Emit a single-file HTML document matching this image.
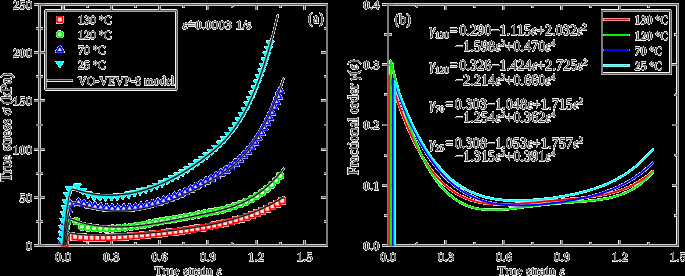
<!DOCTYPE html>
<html><head><meta charset="utf-8"><style>
html,body{margin:0;padding:0;background:#000;width:685px;height:276px;overflow:hidden}
svg{display:block}
text{font-family:"Liberation Serif",serif}
</style></head><body>
<svg width="685" height="276" viewBox="0 0 685 276">
<defs><filter id="key" x="0" y="0" width="685" height="276" filterUnits="userSpaceOnUse" color-interpolation-filters="sRGB">
<feColorMatrix in="SourceGraphic" type="matrix" values="0 0 0 0 0  0 0 0 0 0  0 0 0 0 0  -0.3333 -0.3333 -0.3334 0 1" result="inv"/>
<feComponentTransfer in="inv" result="mask"><feFuncA type="discrete" tableValues="0 0 1 1 1 1 1 1 1 1 1 1 1 1 1 1 1 1 1 1 1 1 1 1 1 1 1 1 1 1 1 1 1 1 1 1 1 1 1 1 1 1 1 1 1 1 1 1 1 1 1 1 1 1 1 1 1 1 1 1 1 1 1 1 1 1 1 1 1 1 1 1 1 1 1 1 1 1 1 1 1 1 1 1 1 1 1 1 1 1 1 1 1 1 1 1 1 1 1 1"/></feComponentTransfer>
<feComposite in="SourceGraphic" in2="mask" operator="in"/>
</filter></defs>
<rect width="685" height="276" fill="#000"/>
<g filter="url(#key)">
<rect width="685" height="276" fill="#fff"/>
<path d="M63.00,244.5v-4.5M63.00,5.5v4.5M87.15,244.5v-2M87.15,5.5v2M111.30,244.5v-4.5M111.30,5.5v4.5M135.45,244.5v-2M135.45,5.5v2M159.60,244.5v-4.5M159.60,5.5v4.5M183.75,244.5v-2M183.75,5.5v2M207.90,244.5v-4.5M207.90,5.5v4.5M232.05,244.5v-2M232.05,5.5v2M256.20,244.5v-4.5M256.20,5.5v4.5M280.35,244.5v-2M280.35,5.5v2M304.50,244.5v-4.5M304.50,5.5v4.5M34.0,245.50h4.5M40.5,245.50h4.5M36.0,221.40h2.5M40.5,221.40h2.5M326.0,221.40h-2M34.0,197.30h4.5M40.5,197.30h4.5M326.0,197.30h-4.5M36.0,173.20h2.5M40.5,173.20h2.5M326.0,173.20h-2M34.0,149.10h4.5M40.5,149.10h4.5M326.0,149.10h-4.5M36.0,125.00h2.5M40.5,125.00h2.5M326.0,125.00h-2M34.0,100.90h4.5M40.5,100.90h4.5M326.0,100.90h-4.5M36.0,76.80h2.5M40.5,76.80h2.5M326.0,76.80h-2M34.0,52.70h4.5M40.5,52.70h4.5M326.0,52.70h-4.5M36.0,28.60h2.5M40.5,28.60h2.5M326.0,28.60h-2M34.0,4.50h4.5M40.5,4.50h4.5M416.98,244.5v-2M416.98,5.5v2M445.95,244.5v-4.5M445.95,5.5v4.5M474.93,244.5v-2M474.93,5.5v2M503.90,244.5v-4.5M503.90,5.5v4.5M532.88,244.5v-2M532.88,5.5v2M561.85,244.5v-4.5M561.85,5.5v4.5M590.83,244.5v-2M590.83,5.5v2M619.80,244.5v-4.5M619.80,5.5v4.5M648.78,244.5v-2M648.78,5.5v2M382.5,245.50h4.5M389.0,245.50h4.5M384.5,215.38h2.5M389.0,215.38h2.5M676.75,215.38h-2M382.5,185.25h4.5M389.0,185.25h4.5M676.75,185.25h-4.5M384.5,155.12h2.5M389.0,155.12h2.5M676.75,155.12h-2M382.5,125.00h4.5M389.0,125.00h4.5M676.75,125.00h-4.5M384.5,94.88h2.5M389.0,94.88h2.5M676.75,94.88h-2M382.5,64.75h4.5M389.0,64.75h4.5M676.75,64.75h-4.5M384.5,34.62h2.5M389.0,34.62h2.5M676.75,34.62h-2M382.5,4.50h4.5M389.0,4.50h4.5" stroke="#b8b8b8" stroke-width="2.2" fill="none" />
<path d="M63.00,244.5v-4.5M63.00,5.5v4.5M87.15,244.5v-2M87.15,5.5v2M111.30,244.5v-4.5M111.30,5.5v4.5M135.45,244.5v-2M135.45,5.5v2M159.60,244.5v-4.5M159.60,5.5v4.5M183.75,244.5v-2M183.75,5.5v2M207.90,244.5v-4.5M207.90,5.5v4.5M232.05,244.5v-2M232.05,5.5v2M256.20,244.5v-4.5M256.20,5.5v4.5M280.35,244.5v-2M280.35,5.5v2M304.50,244.5v-4.5M304.50,5.5v4.5M34.0,245.50h4.5M40.5,245.50h4.5M36.0,221.40h2.5M40.5,221.40h2.5M326.0,221.40h-2M34.0,197.30h4.5M40.5,197.30h4.5M326.0,197.30h-4.5M36.0,173.20h2.5M40.5,173.20h2.5M326.0,173.20h-2M34.0,149.10h4.5M40.5,149.10h4.5M326.0,149.10h-4.5M36.0,125.00h2.5M40.5,125.00h2.5M326.0,125.00h-2M34.0,100.90h4.5M40.5,100.90h4.5M326.0,100.90h-4.5M36.0,76.80h2.5M40.5,76.80h2.5M326.0,76.80h-2M34.0,52.70h4.5M40.5,52.70h4.5M326.0,52.70h-4.5M36.0,28.60h2.5M40.5,28.60h2.5M326.0,28.60h-2M34.0,4.50h4.5M40.5,4.50h4.5M416.98,244.5v-2M416.98,5.5v2M445.95,244.5v-4.5M445.95,5.5v4.5M474.93,244.5v-2M474.93,5.5v2M503.90,244.5v-4.5M503.90,5.5v4.5M532.88,244.5v-2M532.88,5.5v2M561.85,244.5v-4.5M561.85,5.5v4.5M590.83,244.5v-2M590.83,5.5v2M619.80,244.5v-4.5M619.80,5.5v4.5M648.78,244.5v-2M648.78,5.5v2M382.5,245.50h4.5M389.0,245.50h4.5M384.5,215.38h2.5M389.0,215.38h2.5M676.75,215.38h-2M382.5,185.25h4.5M389.0,185.25h4.5M676.75,185.25h-4.5M384.5,155.12h2.5M389.0,155.12h2.5M676.75,155.12h-2M382.5,125.00h4.5M389.0,125.00h4.5M676.75,125.00h-4.5M384.5,94.88h2.5M389.0,94.88h2.5M676.75,94.88h-2M382.5,64.75h4.5M389.0,64.75h4.5M676.75,64.75h-4.5M384.5,34.62h2.5M389.0,34.62h2.5M676.75,34.62h-2M382.5,4.50h4.5M389.0,4.50h4.5" stroke="#333" stroke-width="0.9" fill="none" />
<rect x="39.5" y="4.5" width="287.5" height="241.0" fill="none" stroke="#5e5e5e" stroke-width="1.6"/>
<rect x="388.0" y="4.5" width="289.75" height="241.0" fill="none" stroke="#5e5e5e" stroke-width="1.6"/>
<g><g fill="#ffd8d8" stroke="#ff0000" stroke-width="1.6" stroke-linejoin="round"><rect x="61.98" y="240.70" width="5.60" height="5.60"/><rect x="63.74" y="234.62" width="5.60" height="5.60"/><rect x="72.18" y="233.99" width="5.60" height="5.60"/><rect x="77.72" y="234.48" width="5.60" height="5.60"/><rect x="83.30" y="234.73" width="5.60" height="5.60"/><rect x="88.90" y="234.83" width="5.60" height="5.60"/><rect x="94.50" y="234.84" width="5.60" height="5.60"/><rect x="100.10" y="234.76" width="5.60" height="5.60"/><rect x="105.70" y="234.62" width="5.60" height="5.60"/><rect x="111.30" y="234.41" width="5.60" height="5.60"/><rect x="116.89" y="234.13" width="5.60" height="5.60"/><rect x="122.49" y="233.80" width="5.60" height="5.60"/><rect x="128.08" y="233.40" width="5.60" height="5.60"/><rect x="133.67" y="232.95" width="5.60" height="5.60"/><rect x="139.26" y="232.44" width="5.60" height="5.60"/><rect x="144.85" y="231.88" width="5.60" height="5.60"/><rect x="150.43" y="231.33" width="5.60" height="5.60"/><rect x="156.00" y="230.78" width="5.60" height="5.60"/><rect x="161.57" y="230.18" width="5.60" height="5.60"/><rect x="167.14" y="229.53" width="5.60" height="5.60"/><rect x="172.70" y="228.84" width="5.60" height="5.60"/><rect x="178.25" y="228.11" width="5.60" height="5.60"/><rect x="183.80" y="227.35" width="5.60" height="5.60"/><rect x="189.35" y="226.53" width="5.60" height="5.60"/><rect x="194.88" y="225.67" width="5.60" height="5.60"/><rect x="200.41" y="224.73" width="5.60" height="5.60"/><rect x="205.93" y="223.72" width="5.60" height="5.60"/><rect x="211.43" y="222.62" width="5.60" height="5.60"/><rect x="216.91" y="221.42" width="5.60" height="5.60"/><rect x="222.37" y="220.11" width="5.60" height="5.60"/><rect x="227.80" y="218.70" width="5.60" height="5.60"/><rect x="233.20" y="217.29" width="5.60" height="5.60"/><rect x="238.56" y="215.75" width="5.60" height="5.60"/><rect x="243.88" y="214.06" width="5.60" height="5.60"/><rect x="249.15" y="212.23" width="5.60" height="5.60"/><rect x="254.36" y="210.25" width="5.60" height="5.60"/><rect x="259.52" y="208.12" width="5.60" height="5.60"/><rect x="264.61" y="205.83" width="5.60" height="5.60"/><rect x="269.63" y="203.39" width="5.60" height="5.60"/><rect x="274.57" y="200.80" width="5.60" height="5.60"/><rect x="279.44" y="198.06" width="5.60" height="5.60"/></g><g fill="#d8ffd8" stroke="#00f000" stroke-width="1.6" stroke-linejoin="round"><circle cx="63.78" cy="241.19" r="2.90"/><circle cx="64.67" cy="234.78" r="2.90"/><circle cx="65.80" cy="228.23" r="2.90"/><circle cx="67.29" cy="222.09" r="2.90"/><circle cx="76.16" cy="221.31" r="2.90"/><circle cx="82.02" cy="226.73" r="2.90"/><circle cx="88.01" cy="227.66" r="2.90"/><circle cx="94.09" cy="228.27" r="2.90"/><circle cx="100.21" cy="228.59" r="2.90"/><circle cx="106.38" cy="228.64" r="2.90"/><circle cx="112.56" cy="228.44" r="2.90"/><circle cx="118.76" cy="228.02" r="2.90"/><circle cx="124.96" cy="227.45" r="2.90"/><circle cx="131.16" cy="226.72" r="2.90"/><circle cx="137.34" cy="225.81" r="2.90"/><circle cx="143.51" cy="224.75" r="2.90"/><circle cx="149.67" cy="223.55" r="2.90"/><circle cx="155.80" cy="222.23" r="2.90"/><circle cx="161.92" cy="220.98" r="2.90"/><circle cx="168.03" cy="220.00" r="2.90"/><circle cx="174.13" cy="218.96" r="2.90"/><circle cx="180.21" cy="217.87" r="2.90"/><circle cx="186.28" cy="216.75" r="2.90"/><circle cx="192.36" cy="215.62" r="2.90"/><circle cx="198.43" cy="214.50" r="2.90"/><circle cx="204.50" cy="213.39" r="2.90"/><circle cx="210.57" cy="212.25" r="2.90"/><circle cx="216.63" cy="211.01" r="2.90"/><circle cx="222.67" cy="209.61" r="2.90"/><circle cx="228.65" cy="207.99" r="2.90"/><circle cx="234.56" cy="206.24" r="2.90"/><circle cx="240.37" cy="204.21" r="2.90"/><circle cx="246.05" cy="201.82" r="2.90"/><circle cx="251.57" cy="199.07" r="2.90"/><circle cx="256.90" cy="195.96" r="2.90"/><circle cx="262.01" cy="192.50" r="2.90"/><circle cx="266.90" cy="188.72" r="2.90"/><circle cx="271.57" cy="184.66" r="2.90"/><circle cx="276.00" cy="180.34" r="2.90"/><circle cx="280.22" cy="175.81" r="2.90"/></g><g fill="#dcdcff" stroke="#0000ff" stroke-width="1.6" stroke-linejoin="round"><path d="M62.56,237.35L66.26,243.45L58.86,243.45Z"/><path d="M63.35,231.24L67.05,237.34L59.65,237.34Z"/><path d="M64.32,224.46L68.02,230.56L60.62,230.56Z"/><path d="M65.31,218.32L69.01,224.42L61.61,224.42Z"/><path d="M66.49,212.04L70.19,218.14L62.79,218.14Z"/><path d="M67.87,206.13L71.57,212.23L64.17,212.23Z"/><path d="M69.98,200.06L73.68,206.16L66.28,206.16Z"/><path d="M78.44,198.36L82.14,204.46L74.74,204.46Z"/><path d="M83.86,200.01L87.56,206.11L80.16,206.11Z"/><path d="M89.38,201.39L93.08,207.49L85.68,207.49Z"/><path d="M94.99,202.47L98.69,208.57L91.29,208.57Z"/><path d="M100.66,203.30L104.36,209.40L96.96,209.40Z"/><path d="M106.39,204.05L110.09,210.15L102.69,210.15Z"/><path d="M112.16,204.51L115.86,210.61L108.46,210.61Z"/><path d="M117.95,204.67L121.65,210.77L114.25,210.77Z"/><path d="M123.75,204.55L127.45,210.65L120.05,210.65Z"/><path d="M129.54,204.15L133.24,210.25L125.84,210.25Z"/><path d="M135.32,203.49L139.02,209.59L131.62,209.59Z"/><path d="M141.06,202.57L144.76,208.67L137.36,208.67Z"/><path d="M146.77,201.41L150.47,207.51L143.07,207.51Z"/><path d="M152.43,200.03L156.13,206.13L148.73,206.13Z"/><path d="M158.04,198.44L161.74,204.54L154.34,204.54Z"/><path d="M163.59,196.66L167.29,202.76L159.89,202.76Z"/><path d="M169.08,194.70L172.78,200.80L165.38,200.80Z"/><path d="M174.52,192.58L178.22,198.68L170.82,198.68Z"/><path d="M179.89,190.31L183.59,196.41L176.19,196.41Z"/><path d="M185.20,187.90L188.90,194.00L181.50,194.00Z"/><path d="M190.45,185.37L194.15,191.47L186.75,191.47Z"/><path d="M195.65,182.72L199.35,188.82L191.95,188.82Z"/><path d="M200.79,180.01L204.49,186.11L197.09,186.11Z"/><path d="M205.88,177.47L209.58,183.57L202.18,183.57Z"/><path d="M210.91,174.84L214.61,180.94L207.21,180.94Z"/><path d="M215.90,172.12L219.60,178.22L212.20,178.22Z"/><path d="M220.84,169.29L224.54,175.39L217.14,175.39Z"/><path d="M225.69,166.28L229.39,172.38L221.99,172.38Z"/><path d="M230.41,163.02L234.11,169.12L226.71,169.12Z"/><path d="M234.97,159.51L238.67,165.61L231.27,165.61Z"/><path d="M239.32,155.71L243.02,161.81L235.62,161.81Z"/><path d="M243.46,151.66L247.16,157.76L239.76,157.76Z"/><path d="M247.36,147.37L251.06,153.47L243.66,153.47Z"/><path d="M251.03,142.90L254.73,149.00L247.33,149.00Z"/><path d="M254.49,138.31L258.19,144.41L250.79,144.41Z"/><path d="M257.74,133.58L261.44,139.68L254.04,139.68Z"/><path d="M260.80,128.71L264.50,134.81L257.10,134.81Z"/><path d="M263.68,123.74L267.38,129.84L259.98,129.84Z"/><path d="M266.41,118.68L270.11,124.78L262.71,124.78Z"/><path d="M269.00,113.54L272.70,119.64L265.30,119.64Z"/><path d="M271.45,108.34L275.15,114.44L267.75,114.44Z"/><path d="M273.79,103.08L277.49,109.18L270.09,109.18Z"/><path d="M276.03,97.78L279.73,103.88L272.33,103.88Z"/><path d="M278.16,92.43L281.86,98.53L274.46,98.53Z"/><path d="M280.21,87.06L283.91,93.16L276.51,93.16Z"/></g><g fill="#00ffff" stroke="#00ffff" stroke-width="0.9" stroke-linejoin="round"><path d="M61.88,244.45L65.58,238.35L58.18,238.35Z"/><path d="M62.46,237.98L66.16,231.88L58.76,231.88Z"/><path d="M63.05,231.84L66.75,225.74L59.35,225.74Z"/><path d="M63.80,224.67L67.50,218.57L60.10,218.57Z"/><path d="M64.56,218.08L68.26,211.98L60.86,211.98Z"/><path d="M65.34,212.09L69.04,205.99L61.64,205.99Z"/><path d="M66.28,205.79L69.98,199.69L62.58,199.69Z"/><path d="M67.57,199.00L71.27,192.90L63.87,192.90Z"/><path d="M69.36,192.94L73.06,186.84L65.66,186.84Z"/><path d="M77.14,190.48L80.84,184.38L73.44,184.38Z"/><path d="M82.71,194.78L86.41,188.68L79.01,188.68Z"/><path d="M88.34,198.31L92.04,192.21L84.64,192.21Z"/><path d="M94.03,200.57L97.73,194.47L90.33,194.47Z"/><path d="M99.77,201.01L103.47,194.91L96.07,194.91Z"/><path d="M105.54,201.13L109.24,195.03L101.84,195.03Z"/><path d="M111.34,200.95L115.04,194.85L107.64,194.85Z"/><path d="M117.14,200.43L120.84,194.33L113.44,194.33Z"/><path d="M122.92,199.55L126.62,193.45L119.22,193.45Z"/><path d="M128.68,198.38L132.38,192.28L124.98,192.28Z"/><path d="M134.40,196.94L138.10,190.84L130.70,190.84Z"/><path d="M140.07,195.23L143.77,189.13L136.37,189.13Z"/><path d="M145.68,193.57L149.38,187.47L141.98,187.47Z"/><path d="M151.21,191.67L154.91,185.57L147.51,185.57Z"/><path d="M156.68,189.55L160.38,183.45L152.98,183.45Z"/><path d="M162.06,187.24L165.76,181.14L158.36,181.14Z"/><path d="M167.36,184.73L171.06,178.63L163.66,178.63Z"/><path d="M172.58,182.05L176.28,175.95L168.88,175.95Z"/><path d="M177.72,179.22L181.42,173.12L174.02,173.12Z"/><path d="M182.77,176.24L186.47,170.14L179.07,170.14Z"/><path d="M187.75,173.12L191.45,167.02L184.05,167.02Z"/><path d="M192.64,169.88L196.34,163.78L188.94,163.78Z"/><path d="M197.45,166.52L201.15,160.42L193.75,160.42Z"/><path d="M202.19,163.01L205.89,156.91L198.49,156.91Z"/><path d="M206.86,159.34L210.56,153.24L203.16,153.24Z"/><path d="M211.46,155.56L215.16,149.46L207.76,149.46Z"/><path d="M215.97,151.63L219.67,145.53L212.27,145.53Z"/><path d="M220.34,147.50L224.04,141.40L216.64,141.40Z"/><path d="M224.53,143.14L228.23,137.04L220.83,137.04Z"/><path d="M228.51,138.56L232.21,132.46L224.81,132.46Z"/><path d="M232.26,133.86L235.96,127.76L228.56,127.76Z"/><path d="M235.79,129.02L239.49,122.92L232.09,122.92Z"/><path d="M239.10,124.02L242.80,117.92L235.40,117.92Z"/><path d="M242.19,118.90L245.89,112.80L238.49,112.80Z"/><path d="M245.10,113.67L248.80,107.57L241.40,107.57Z"/><path d="M247.83,108.35L251.53,102.25L244.13,102.25Z"/><path d="M250.41,102.97L254.11,96.87L246.71,96.87Z"/><path d="M252.84,97.53L256.54,91.43L249.14,91.43Z"/><path d="M255.14,92.04L258.84,85.94L251.44,85.94Z"/><path d="M257.32,86.51L261.02,80.41L253.62,80.41Z"/><path d="M259.41,80.95L263.11,74.85L255.71,74.85Z"/><path d="M261.39,75.37L265.09,69.27L257.69,69.27Z"/><path d="M263.30,69.75L267.00,63.65L259.60,63.65Z"/><path d="M265.12,64.12L268.82,58.02L261.42,58.02Z"/><path d="M266.87,58.48L270.57,52.38L263.17,52.38Z"/><path d="M268.55,52.82L272.25,46.72L264.85,46.72Z"/><path d="M270.18,47.14L273.88,41.04L266.48,41.04Z"/></g></g>
<path d="M65.60,245.50 C67.07,238.00 68.78,233.00 70.50,233.00 L72.90,233.51 L75.29,233.89 L77.69,234.18 L80.09,234.41 L82.48,234.59 L84.88,234.74 L87.28,234.85 L89.67,234.95 L92.07,235.02 L94.47,235.08 L96.86,235.12 L99.26,235.14 L101.66,235.16 L104.05,235.16 L106.45,235.14 L108.85,235.12 L111.24,235.08 L113.64,235.03 L116.04,234.97 L118.43,234.89 L120.83,234.81 L123.23,234.71 L125.62,234.60 L128.02,234.49 L130.42,234.36 L132.81,234.22 L135.21,234.07 L137.61,233.91 L140.00,233.74 L142.40,233.56 L144.80,233.37 L147.19,233.17 L149.59,232.96 L151.99,232.75 L154.38,232.52 L156.78,232.28 L159.18,232.04 L161.57,231.78 L163.97,231.52 L166.37,231.25 L168.76,230.97 L171.16,230.68 L173.56,230.39 L175.95,230.09 L178.35,229.77 L180.74,229.46 L183.14,229.13 L185.54,228.80 L187.93,228.45 L190.33,228.10 L192.73,227.75 L195.12,227.37 L197.52,226.99 L199.92,226.60 L202.31,226.19 L204.71,225.77 L207.11,225.33 L209.50,224.87 L211.90,224.40 L214.30,223.90 L216.69,223.39 L219.09,222.86 L221.49,222.30 L223.88,221.73 L226.28,221.13 L228.68,220.50 L231.07,219.85 L233.47,219.17 L235.87,218.46 L238.26,217.73 L240.66,216.96 L243.06,216.17 L245.45,215.34 L247.85,214.48 L250.25,213.59 L252.64,212.66 L255.04,211.70 L257.44,210.69 L259.83,209.66 L262.23,208.58 L264.63,207.46 L267.02,206.30 L269.42,205.10 L271.82,203.86 L274.21,202.57 L276.61,201.24 L279.01,199.87 L281.40,198.44 L283.80,196.97" fill="none" stroke="#9a9a9a" stroke-width="1.8" stroke-linejoin="round" stroke-linecap="round"/>
<path d="M64.90,245.50 C66.79,229.60 69.00,219.00 71.20,219.00 L73.59,220.01 L75.98,220.89 L78.37,221.68 L80.76,222.39 L83.14,223.02 L85.53,223.60 L87.92,224.11 L90.31,224.58 L92.70,225.00 L95.09,225.37 L97.48,225.70 L99.87,225.99 L102.25,226.23 L104.64,226.44 L107.03,226.61 L109.42,226.74 L111.81,226.83 L114.20,226.89 L116.59,226.92 L118.98,226.92 L121.36,226.88 L123.75,226.81 L126.14,226.71 L128.53,226.59 L130.92,226.43 L133.31,226.25 L135.70,226.05 L138.09,225.82 L140.47,225.57 L142.86,225.30 L145.25,225.00 L147.64,224.69 L150.03,224.35 L152.42,224.00 L154.81,223.63 L157.20,223.25 L159.58,222.85 L161.97,222.43 L164.36,222.01 L166.75,221.57 L169.14,221.12 L171.53,220.67 L173.92,220.20 L176.31,219.73 L178.69,219.25 L181.08,218.76 L183.47,218.27 L185.86,217.78 L188.25,217.28 L190.64,216.79 L193.03,216.29 L195.42,215.80 L197.80,215.30 L200.19,214.81 L202.58,214.33 L204.97,213.84 L207.36,213.34 L209.75,212.84 L212.14,212.33 L214.53,211.79 L216.91,211.23 L219.30,210.65 L221.69,210.03 L224.08,209.38 L226.47,208.69 L228.86,207.95 L231.25,207.17 L233.64,206.33 L236.02,205.43 L238.41,204.48 L240.80,203.45 L243.19,202.36 L245.58,201.19 L247.97,199.94 L250.36,198.60 L252.75,197.18 L255.13,195.67 L257.52,194.06 L259.91,192.34 L262.30,190.53 L264.69,188.60 L267.08,186.55 L269.47,184.39 L271.86,182.11 L274.24,179.69 L276.63,177.15 L279.02,174.47 L281.41,171.65 L283.80,168.68" fill="none" stroke="#9a9a9a" stroke-width="1.8" stroke-linejoin="round" stroke-linecap="round"/>
<path d="M63.60,245.50 C66.66,219.40 70.23,202.00 73.80,202.00 L76.16,202.98 L78.51,203.91 L80.87,204.77 L83.22,205.57 L85.58,206.32 L87.94,207.01 L90.29,207.64 L92.65,208.22 L95.01,208.75 L97.36,209.22 L99.72,209.64 L102.07,210.01 L104.43,210.33 L106.79,210.59 L109.14,210.81 L111.50,210.97 L113.86,211.09 L116.21,211.16 L118.57,211.18 L120.92,211.15 L123.28,211.07 L125.64,210.95 L127.99,210.79 L130.35,210.58 L132.70,210.32 L135.06,210.02 L137.42,209.68 L139.77,209.30 L142.13,208.87 L144.49,208.40 L146.84,207.89 L149.20,207.35 L151.55,206.76 L153.91,206.13 L156.27,205.47 L158.62,204.76 L160.98,204.02 L163.33,203.25 L165.69,202.43 L168.05,201.58 L170.40,200.70 L172.76,199.78 L175.12,198.83 L177.47,197.85 L179.83,196.83 L182.18,195.79 L184.54,194.71 L186.90,193.60 L189.25,192.46 L191.61,191.29 L193.97,190.09 L196.32,188.87 L198.68,187.61 L201.03,186.33 L203.39,185.03 L205.75,183.69 L208.10,182.34 L210.46,180.95 L212.81,179.55 L215.17,178.12 L217.53,176.66 L219.88,175.16 L222.24,173.62 L224.60,172.01 L226.95,170.33 L229.31,168.56 L231.66,166.70 L234.02,164.73 L236.38,162.65 L238.73,160.43 L241.09,158.07 L243.44,155.56 L245.80,152.89 L248.16,150.04 L250.51,147.00 L252.87,143.77 L255.23,140.33 L257.58,136.66 L259.94,132.76 L262.29,128.62 L264.65,124.23 L267.01,119.56 L269.36,114.62 L271.72,109.39 L274.08,103.86 L276.43,98.02 L278.79,91.85 L281.14,85.35 L283.50,78.50" fill="none" stroke="#9a9a9a" stroke-width="1.8" stroke-linejoin="round" stroke-linecap="round"/>
<path d="M63.10,245.50 C65.92,211.60 69.21,189.00 72.50,189.00 L74.81,189.72 L77.11,190.40 L79.42,191.06 L81.72,191.67 L84.03,192.24 L86.33,192.76 L88.64,193.24 L90.94,193.67 L93.25,194.04 L95.56,194.37 L97.86,194.65 L100.17,194.88 L102.47,195.06 L104.78,195.19 L107.08,195.27 L109.39,195.30 L111.70,195.29 L114.00,195.22 L116.31,195.11 L118.61,194.95 L120.92,194.74 L123.22,194.49 L125.53,194.19 L127.83,193.84 L130.14,193.45 L132.45,193.01 L134.75,192.52 L137.06,191.99 L139.36,191.42 L141.67,190.80 L143.97,190.13 L146.28,189.43 L148.59,188.67 L150.89,187.88 L153.20,187.04 L155.50,186.16 L157.81,185.23 L160.11,184.27 L162.42,183.26 L164.72,182.21 L167.03,181.12 L169.34,179.99 L171.64,178.82 L173.95,177.60 L176.25,176.35 L178.56,175.06 L180.86,173.72 L183.17,172.35 L185.48,170.94 L187.78,169.49 L190.09,168.01 L192.39,166.48 L194.70,164.92 L197.00,163.32 L199.31,161.68 L201.61,160.01 L203.92,158.30 L206.23,156.55 L208.53,154.77 L210.84,152.95 L213.14,151.07 L215.45,149.11 L217.75,147.08 L220.06,144.94 L222.37,142.69 L224.67,140.31 L226.98,137.78 L229.28,135.09 L231.59,132.23 L233.89,129.18 L236.20,125.93 L238.50,122.45 L240.81,118.74 L243.12,114.79 L245.42,110.57 L247.73,106.07 L250.03,101.27 L252.34,96.17 L254.64,90.75 L256.95,84.98 L259.26,78.87 L261.56,72.38 L263.87,65.52 L266.17,58.26 L268.48,50.58 L270.78,42.48 L273.09,33.93 L275.39,24.93 L277.70,15.46" fill="none" stroke="#9a9a9a" stroke-width="1.8" stroke-linejoin="round" stroke-linecap="round"/>
<path d="M65.60,245.50 C67.07,238.00 68.78,233.00 70.50,233.00 L72.90,233.51 L75.29,233.89 L77.69,234.18 L80.09,234.41 L82.48,234.59 L84.88,234.74 L87.28,234.85 L89.67,234.95 L92.07,235.02 L94.47,235.08 L96.86,235.12 L99.26,235.14 L101.66,235.16 L104.05,235.16 L106.45,235.14 L108.85,235.12 L111.24,235.08 L113.64,235.03 L116.04,234.97 L118.43,234.89 L120.83,234.81 L123.23,234.71 L125.62,234.60 L128.02,234.49 L130.42,234.36 L132.81,234.22 L135.21,234.07 L137.61,233.91 L140.00,233.74 L142.40,233.56 L144.80,233.37 L147.19,233.17 L149.59,232.96 L151.99,232.75 L154.38,232.52 L156.78,232.28 L159.18,232.04 L161.57,231.78 L163.97,231.52 L166.37,231.25 L168.76,230.97 L171.16,230.68 L173.56,230.39 L175.95,230.09 L178.35,229.77 L180.74,229.46 L183.14,229.13 L185.54,228.80 L187.93,228.45 L190.33,228.10 L192.73,227.75 L195.12,227.37 L197.52,226.99 L199.92,226.60 L202.31,226.19 L204.71,225.77 L207.11,225.33 L209.50,224.87 L211.90,224.40 L214.30,223.90 L216.69,223.39 L219.09,222.86 L221.49,222.30 L223.88,221.73 L226.28,221.13 L228.68,220.50 L231.07,219.85 L233.47,219.17 L235.87,218.46 L238.26,217.73 L240.66,216.96 L243.06,216.17 L245.45,215.34 L247.85,214.48 L250.25,213.59 L252.64,212.66 L255.04,211.70 L257.44,210.69 L259.83,209.66 L262.23,208.58 L264.63,207.46 L267.02,206.30 L269.42,205.10 L271.82,203.86 L274.21,202.57 L276.61,201.24 L279.01,199.87 L281.40,198.44 L283.80,196.97" fill="none" stroke="#111" stroke-width="1.2" stroke-linejoin="round"/>
<path d="M64.90,245.50 C66.79,229.60 69.00,219.00 71.20,219.00 L73.59,220.01 L75.98,220.89 L78.37,221.68 L80.76,222.39 L83.14,223.02 L85.53,223.60 L87.92,224.11 L90.31,224.58 L92.70,225.00 L95.09,225.37 L97.48,225.70 L99.87,225.99 L102.25,226.23 L104.64,226.44 L107.03,226.61 L109.42,226.74 L111.81,226.83 L114.20,226.89 L116.59,226.92 L118.98,226.92 L121.36,226.88 L123.75,226.81 L126.14,226.71 L128.53,226.59 L130.92,226.43 L133.31,226.25 L135.70,226.05 L138.09,225.82 L140.47,225.57 L142.86,225.30 L145.25,225.00 L147.64,224.69 L150.03,224.35 L152.42,224.00 L154.81,223.63 L157.20,223.25 L159.58,222.85 L161.97,222.43 L164.36,222.01 L166.75,221.57 L169.14,221.12 L171.53,220.67 L173.92,220.20 L176.31,219.73 L178.69,219.25 L181.08,218.76 L183.47,218.27 L185.86,217.78 L188.25,217.28 L190.64,216.79 L193.03,216.29 L195.42,215.80 L197.80,215.30 L200.19,214.81 L202.58,214.33 L204.97,213.84 L207.36,213.34 L209.75,212.84 L212.14,212.33 L214.53,211.79 L216.91,211.23 L219.30,210.65 L221.69,210.03 L224.08,209.38 L226.47,208.69 L228.86,207.95 L231.25,207.17 L233.64,206.33 L236.02,205.43 L238.41,204.48 L240.80,203.45 L243.19,202.36 L245.58,201.19 L247.97,199.94 L250.36,198.60 L252.75,197.18 L255.13,195.67 L257.52,194.06 L259.91,192.34 L262.30,190.53 L264.69,188.60 L267.08,186.55 L269.47,184.39 L271.86,182.11 L274.24,179.69 L276.63,177.15 L279.02,174.47 L281.41,171.65 L283.80,168.68" fill="none" stroke="#111" stroke-width="1.2" stroke-linejoin="round"/>
<path d="M63.60,245.50 C66.66,219.40 70.23,202.00 73.80,202.00 L76.16,202.98 L78.51,203.91 L80.87,204.77 L83.22,205.57 L85.58,206.32 L87.94,207.01 L90.29,207.64 L92.65,208.22 L95.01,208.75 L97.36,209.22 L99.72,209.64 L102.07,210.01 L104.43,210.33 L106.79,210.59 L109.14,210.81 L111.50,210.97 L113.86,211.09 L116.21,211.16 L118.57,211.18 L120.92,211.15 L123.28,211.07 L125.64,210.95 L127.99,210.79 L130.35,210.58 L132.70,210.32 L135.06,210.02 L137.42,209.68 L139.77,209.30 L142.13,208.87 L144.49,208.40 L146.84,207.89 L149.20,207.35 L151.55,206.76 L153.91,206.13 L156.27,205.47 L158.62,204.76 L160.98,204.02 L163.33,203.25 L165.69,202.43 L168.05,201.58 L170.40,200.70 L172.76,199.78 L175.12,198.83 L177.47,197.85 L179.83,196.83 L182.18,195.79 L184.54,194.71 L186.90,193.60 L189.25,192.46 L191.61,191.29 L193.97,190.09 L196.32,188.87 L198.68,187.61 L201.03,186.33 L203.39,185.03 L205.75,183.69 L208.10,182.34 L210.46,180.95 L212.81,179.55 L215.17,178.12 L217.53,176.66 L219.88,175.16 L222.24,173.62 L224.60,172.01 L226.95,170.33 L229.31,168.56 L231.66,166.70 L234.02,164.73 L236.38,162.65 L238.73,160.43 L241.09,158.07 L243.44,155.56 L245.80,152.89 L248.16,150.04 L250.51,147.00 L252.87,143.77 L255.23,140.33 L257.58,136.66 L259.94,132.76 L262.29,128.62 L264.65,124.23 L267.01,119.56 L269.36,114.62 L271.72,109.39 L274.08,103.86 L276.43,98.02 L278.79,91.85 L281.14,85.35 L283.50,78.50" fill="none" stroke="#111" stroke-width="1.2" stroke-linejoin="round"/>
<path d="M63.10,245.50 C65.92,211.60 69.21,189.00 72.50,189.00 L74.81,189.72 L77.11,190.40 L79.42,191.06 L81.72,191.67 L84.03,192.24 L86.33,192.76 L88.64,193.24 L90.94,193.67 L93.25,194.04 L95.56,194.37 L97.86,194.65 L100.17,194.88 L102.47,195.06 L104.78,195.19 L107.08,195.27 L109.39,195.30 L111.70,195.29 L114.00,195.22 L116.31,195.11 L118.61,194.95 L120.92,194.74 L123.22,194.49 L125.53,194.19 L127.83,193.84 L130.14,193.45 L132.45,193.01 L134.75,192.52 L137.06,191.99 L139.36,191.42 L141.67,190.80 L143.97,190.13 L146.28,189.43 L148.59,188.67 L150.89,187.88 L153.20,187.04 L155.50,186.16 L157.81,185.23 L160.11,184.27 L162.42,183.26 L164.72,182.21 L167.03,181.12 L169.34,179.99 L171.64,178.82 L173.95,177.60 L176.25,176.35 L178.56,175.06 L180.86,173.72 L183.17,172.35 L185.48,170.94 L187.78,169.49 L190.09,168.01 L192.39,166.48 L194.70,164.92 L197.00,163.32 L199.31,161.68 L201.61,160.01 L203.92,158.30 L206.23,156.55 L208.53,154.77 L210.84,152.95 L213.14,151.07 L215.45,149.11 L217.75,147.08 L220.06,144.94 L222.37,142.69 L224.67,140.31 L226.98,137.78 L229.28,135.09 L231.59,132.23 L233.89,129.18 L236.20,125.93 L238.50,122.45 L240.81,118.74 L243.12,114.79 L245.42,110.57 L247.73,106.07 L250.03,101.27 L252.34,96.17 L254.64,90.75 L256.95,84.98 L259.26,78.87 L261.56,72.38 L263.87,65.52 L266.17,58.26 L268.48,50.58 L270.78,42.48 L273.09,33.93 L275.39,24.93 L277.70,15.46" fill="none" stroke="#111" stroke-width="1.2" stroke-linejoin="round"/>
<path d="M389.35,245.50 L389.35,75.42 L391.55,82.72 L393.75,89.72 L395.95,96.43 L398.15,102.84 L400.35,108.98 L402.56,114.85 L404.76,120.45 L406.96,125.79 L409.16,130.89 L411.36,135.75 L413.56,140.37 L415.76,144.77 L417.96,148.94 L420.16,152.91 L422.36,156.67 L424.56,160.23 L426.76,163.60 L428.96,166.79 L431.16,169.79 L433.36,172.63 L435.56,175.29 L437.76,177.80 L439.96,180.16 L442.16,182.36 L444.37,184.43 L446.57,186.35 L448.77,188.15 L450.97,189.82 L453.17,191.37 L455.37,192.81 L457.57,194.13 L459.77,195.35 L461.97,196.47 L464.17,197.50 L466.37,198.43 L468.57,199.28 L470.77,200.05 L472.97,200.74 L475.17,201.35 L477.37,201.90 L479.57,202.38 L481.77,202.80 L483.97,203.16 L486.18,203.47 L488.38,203.72 L490.58,203.93 L492.78,204.10 L494.98,204.22 L497.18,204.31 L499.38,204.36 L501.58,204.38 L503.78,204.37 L505.98,204.34 L508.18,204.27 L510.38,204.19 L512.58,204.09 L514.78,203.97 L516.98,203.83 L519.18,203.68 L521.38,203.52 L523.58,203.35 L525.78,203.17 L527.99,202.98 L530.19,202.78 L532.39,202.58 L534.59,202.38 L536.79,202.17 L538.99,201.97 L541.19,201.76 L543.39,201.55 L545.59,201.34 L547.79,201.13 L549.99,200.92 L552.19,200.71 L554.39,200.50 L556.59,200.30 L558.79,200.09 L560.99,199.88 L563.19,199.68 L565.39,199.47 L567.59,199.26 L569.80,199.05 L572.00,198.84 L574.20,198.63 L576.40,198.40 L578.60,198.18 L580.80,197.94 L583.00,197.70 L585.20,197.45 L587.40,197.18 L589.60,196.90 L591.80,196.61 L594.00,196.29 L596.20,195.96 L598.40,195.60 L600.60,195.23 L602.80,194.82 L605.00,194.38 L607.20,193.92 L609.41,193.41 L611.61,192.87 L613.81,192.29 L616.01,191.67 L618.21,190.99 L620.41,190.27 L622.61,189.49 L624.81,188.66 L627.01,187.76 L629.21,186.80 L631.41,185.77 L633.61,184.66 L635.81,183.48 L638.01,182.22 L640.21,180.87 L642.41,179.43 L644.61,177.89 L646.81,176.26 L649.01,174.52 L651.22,172.67 L653.42,170.70" fill="none" stroke="#ff0000" stroke-width="2.0" stroke-linejoin="round"/>
<path d="M390.70,245.50 L390.70,60.78 L392.89,69.79 L395.08,78.40 L397.27,86.63 L399.46,94.48 L401.65,101.98 L403.84,109.12 L406.03,115.91 L408.22,122.38 L410.41,128.53 L412.60,134.36 L414.79,139.90 L416.98,145.14 L419.16,150.10 L421.35,154.79 L423.54,159.22 L425.73,163.39 L427.92,167.32 L430.11,171.02 L432.30,174.48 L434.49,177.73 L436.68,180.77 L438.87,183.61 L441.06,186.25 L443.25,188.71 L445.44,190.99 L447.63,193.10 L449.81,195.05 L452.00,196.84 L454.19,198.49 L456.38,199.99 L458.57,201.36 L460.76,202.60 L462.95,203.71 L465.14,204.72 L467.33,205.61 L469.52,206.40 L471.71,207.09 L473.90,207.70 L476.09,208.21 L478.27,208.65 L480.46,209.01 L482.65,209.30 L484.84,209.52 L487.03,209.69 L489.22,209.80 L491.41,209.86 L493.60,209.87 L495.79,209.83 L497.98,209.76 L500.17,209.66 L502.36,209.52 L504.55,209.35 L506.74,209.16 L508.92,208.95 L511.11,208.72 L513.30,208.47 L515.49,208.21 L517.68,207.94 L519.87,207.67 L522.06,207.38 L524.25,207.10 L526.44,206.81 L528.63,206.52 L530.82,206.24 L533.01,205.95 L535.20,205.68 L537.38,205.40 L539.57,205.14 L541.76,204.88 L543.95,204.63 L546.14,204.39 L548.33,204.16 L550.52,203.93 L552.71,203.72 L554.90,203.51 L557.09,203.32 L559.28,203.13 L561.47,202.95 L563.66,202.78 L565.85,202.61 L568.03,202.45 L570.22,202.30 L572.41,202.14 L574.60,201.99 L576.79,201.83 L578.98,201.68 L581.17,201.52 L583.36,201.35 L585.55,201.17 L587.74,200.99 L589.93,200.78 L592.12,200.56 L594.31,200.33 L596.49,200.06 L598.68,199.78 L600.87,199.46 L603.06,199.11 L605.25,198.72 L607.44,198.29 L609.63,197.82 L611.82,197.29 L614.01,196.72 L616.20,196.08 L618.39,195.39 L620.58,194.62 L622.77,193.78 L624.96,192.87 L627.14,191.87 L629.33,190.79 L631.52,189.61 L633.71,188.33 L635.90,186.94 L638.09,185.44 L640.28,183.83 L642.47,182.09 L644.66,180.21 L646.85,178.20 L649.04,176.05 L651.23,173.74 L653.42,171.28" fill="none" stroke="#00f000" stroke-width="2.0" stroke-linejoin="round"/>
<path d="M392.83,245.50 L392.83,78.09 L395.00,84.50 L397.17,90.67 L399.34,96.61 L401.52,102.32 L403.69,107.80 L405.86,113.07 L408.03,118.12 L410.20,122.97 L412.37,127.62 L414.54,132.08 L416.72,136.35 L418.89,140.43 L421.06,144.34 L423.23,148.07 L425.40,151.64 L427.57,155.04 L429.75,158.29 L431.92,161.38 L434.09,164.33 L436.26,167.13 L438.43,169.79 L440.60,172.32 L442.77,174.72 L444.95,176.99 L447.12,179.15 L449.29,181.18 L451.46,183.11 L453.63,184.92 L455.80,186.63 L457.98,188.24 L460.15,189.75 L462.32,191.17 L464.49,192.50 L466.66,193.74 L468.83,194.90 L471.01,195.98 L473.18,196.99 L475.35,197.92 L477.52,198.78 L479.69,199.58 L481.86,200.31 L484.03,200.98 L486.21,201.59 L488.38,202.15 L490.55,202.65 L492.72,203.11 L494.89,203.51 L497.06,203.88 L499.24,204.19 L501.41,204.47 L503.58,204.71 L505.75,204.91 L507.92,205.08 L510.09,205.21 L512.26,205.31 L514.44,205.38 L516.61,205.43 L518.78,205.45 L520.95,205.44 L523.12,205.41 L525.29,205.36 L527.47,205.28 L529.64,205.19 L531.81,205.08 L533.98,204.95 L536.15,204.80 L538.32,204.63 L540.49,204.46 L542.67,204.26 L544.84,204.05 L547.01,203.83 L549.18,203.59 L551.35,203.34 L553.52,203.08 L555.70,202.80 L557.87,202.51 L560.04,202.21 L562.21,201.89 L564.38,201.56 L566.55,201.22 L568.73,200.86 L570.90,200.49 L573.07,200.10 L575.24,199.69 L577.41,199.27 L579.58,198.84 L581.75,198.38 L583.93,197.90 L586.10,197.41 L588.27,196.89 L590.44,196.35 L592.61,195.79 L594.78,195.20 L596.96,194.58 L599.13,193.94 L601.30,193.26 L603.47,192.55 L605.64,191.81 L607.81,191.04 L609.98,190.22 L612.16,189.37 L614.33,188.47 L616.50,187.53 L618.67,186.55 L620.84,185.51 L623.01,184.43 L625.19,183.29 L627.36,182.09 L629.53,180.84 L631.70,179.52 L633.87,178.14 L636.04,176.69 L638.21,175.17 L640.39,173.58 L642.56,171.90 L644.73,170.15 L646.90,168.31 L649.07,166.39 L651.24,164.38 L653.42,162.27" fill="none" stroke="#0000ff" stroke-width="2.0" stroke-linejoin="round"/>
<path d="M394.76,245.50 L394.76,80.87 L396.92,87.04 L399.07,92.96 L401.23,98.66 L403.38,104.13 L405.54,109.38 L407.69,114.42 L409.85,119.25 L412.00,123.89 L414.16,128.32 L416.32,132.57 L418.47,136.63 L420.63,140.51 L422.78,144.22 L424.94,147.76 L427.09,151.14 L429.25,154.36 L431.40,157.42 L433.56,160.34 L435.71,163.12 L437.87,165.75 L440.03,168.25 L442.18,170.62 L444.34,172.87 L446.49,174.99 L448.65,177.00 L450.80,178.90 L452.96,180.68 L455.11,182.37 L457.27,183.95 L459.42,185.43 L461.58,186.83 L463.74,188.13 L465.89,189.35 L468.05,190.48 L470.20,191.54 L472.36,192.52 L474.51,193.43 L476.67,194.27 L478.82,195.04 L480.98,195.75 L483.13,196.41 L485.29,197.00 L487.45,197.54 L489.60,198.02 L491.76,198.46 L493.91,198.85 L496.07,199.19 L498.22,199.49 L500.38,199.75 L502.53,199.98 L504.69,200.16 L506.84,200.32 L509.00,200.43 L511.16,200.52 L513.31,200.58 L515.47,200.61 L517.62,200.62 L519.78,200.60 L521.93,200.55 L524.09,200.49 L526.24,200.40 L528.40,200.29 L530.55,200.16 L532.71,200.02 L534.87,199.85 L537.02,199.67 L539.18,199.47 L541.33,199.26 L543.49,199.03 L545.64,198.79 L547.80,198.53 L549.95,198.26 L552.11,197.97 L554.26,197.66 L556.42,197.34 L558.58,197.01 L560.73,196.66 L562.89,196.30 L565.04,195.92 L567.20,195.52 L569.35,195.10 L571.51,194.67 L573.66,194.22 L575.82,193.75 L577.97,193.25 L580.13,192.74 L582.29,192.20 L584.44,191.64 L586.60,191.05 L588.75,190.43 L590.91,189.79 L593.06,189.11 L595.22,188.41 L597.37,187.67 L599.53,186.89 L601.68,186.08 L603.84,185.23 L606.00,184.33 L608.15,183.39 L610.31,182.41 L612.46,181.37 L614.62,180.29 L616.77,179.15 L618.93,177.96 L621.08,176.70 L623.24,175.39 L625.39,174.01 L627.55,172.56 L629.71,171.04 L631.86,169.45 L634.02,167.78 L636.17,166.03 L638.33,164.19 L640.48,162.27 L642.64,160.25 L644.79,158.14 L646.95,155.94 L649.10,153.63 L651.26,151.21 L653.42,148.68" fill="none" stroke="#00ffff" stroke-width="2.0" stroke-linejoin="round"/>
<rect x="45.75" y="10.75" width="131" height="78.5" fill="none" stroke="#5e5e5e" stroke-width="1.6"/>
<g fill="#ffd8d8" stroke="#ff0000" stroke-width="1.6" stroke-linejoin="round"><rect x="57.00" y="16.80" width="5.60" height="5.60"/></g>
<g fill="#d8ffd8" stroke="#00f000" stroke-width="1.6" stroke-linejoin="round"><circle cx="59.80" cy="34.40" r="2.90"/></g>
<g fill="#dcdcff" stroke="#0000ff" stroke-width="1.6" stroke-linejoin="round"><path d="M59.80,45.80L63.50,51.90L56.10,51.90Z"/></g>
<g fill="#00ffff" stroke="#00ffff" stroke-width="0.9" stroke-linejoin="round"><path d="M59.80,67.70L63.50,61.60L56.10,61.60Z"/></g>
<path d="M47.5,80.3H72.5" stroke="#9a9a9a" stroke-width="1.8" fill="none" />
<path d="M47.5,80.3H72.5" stroke="#111" stroke-width="1.2" fill="none" />
<rect x="602" y="10.75" width="68.75" height="63" fill="none" stroke="#5e5e5e" stroke-width="1.6"/>
<path d="M603.5,19.5H629.5" stroke="#ff0000" stroke-width="2.0"/>
<path d="M603.5,35H629.5" stroke="#00f000" stroke-width="2.0"/>
<path d="M603.5,50H629.5" stroke="#0000ff" stroke-width="2.0"/>
<path d="M603.5,65.5H629.5" stroke="#00ffff" stroke-width="2.0"/>
<g fill="#383838" stroke="#c8c8c8" stroke-width="0.7" paint-order="stroke" stroke-linejoin="round"><text x="32.2" y="249.9" font-size="13" text-anchor="end" >0</text><text x="32.2" y="201.7" font-size="13" text-anchor="end" >50</text><text x="32.2" y="153.5" font-size="13" text-anchor="end" >100</text><text x="32.2" y="105.3" font-size="13" text-anchor="end" >150</text><text x="32.2" y="57.1" font-size="13" text-anchor="end" >200</text><text x="32.2" y="8.9" font-size="13" text-anchor="end" >250</text><text x="63.0" y="261" font-size="13" text-anchor="middle" >0.0</text><text x="111.3" y="261" font-size="13" text-anchor="middle" >0.3</text><text x="159.6" y="261" font-size="13" text-anchor="middle" >0.6</text><text x="207.9" y="261" font-size="13" text-anchor="middle" >0.9</text><text x="256.2" y="261" font-size="13" text-anchor="middle" >1.2</text><text x="304.5" y="261" font-size="13" text-anchor="middle" >1.5</text><text x="379.6" y="249.9" font-size="13" text-anchor="end" >0.0</text><text x="379.6" y="189.65" font-size="13" text-anchor="end" >0.1</text><text x="379.6" y="129.4" font-size="13" text-anchor="end" >0.2</text><text x="379.6" y="69.15" font-size="13" text-anchor="end" >0.3</text><text x="379.6" y="8.9" font-size="13" text-anchor="end" >0.4</text><text x="388.0" y="261" font-size="13" text-anchor="middle" >0.0</text><text x="445.95" y="261" font-size="13" text-anchor="middle" >0.3</text><text x="503.9" y="261" font-size="13" text-anchor="middle" >0.6</text><text x="561.85" y="261" font-size="13" text-anchor="middle" >0.9</text><text x="619.8" y="261" font-size="13" text-anchor="middle" >1.2</text><text x="677.75" y="261" font-size="13" text-anchor="middle" >1.5</text><text x="188" y="274.5" font-size="13.5" text-anchor="middle" >True strain <tspan font-style="italic">ε</tspan></text><text x="531" y="274.5" font-size="13.5" text-anchor="middle" >True strain <tspan font-style="italic">ε</tspan></text><text transform="translate(11.3,127.4) rotate(-90)" font-size="14.6" text-anchor="middle">True stress <tspan font-style="italic">σ</tspan> (kPa)</text><text transform="translate(357.8,117.2) rotate(-90)" font-size="14.2" text-anchor="middle">Fractional order <tspan font-style="italic">γ</tspan>(<tspan font-style="italic">ε</tspan>)</text><text x="78" y="24.2" font-size="12" text-anchor="start" >130 °C</text><text x="78" y="39" font-size="12" text-anchor="start" >120 °C</text><text x="78" y="54" font-size="12" text-anchor="start" >70 °C</text><text x="78" y="69" font-size="12" text-anchor="start" >25 °C</text><text x="78" y="85" font-size="12" text-anchor="start" >VO-VEVP-S model</text><text x="634.5" y="24" font-size="12" text-anchor="start" >130 °C</text><text x="634.5" y="39.5" font-size="12" text-anchor="start" >120 °C</text><text x="634.5" y="54.5" font-size="12" text-anchor="start" >70 °C</text><text x="634.5" y="70" font-size="12" text-anchor="start" >25 °C</text><text x="308" y="23" font-size="14" text-anchor="start" >(a)</text><text x="394.5" y="23.5" font-size="14" text-anchor="start" >(b)</text><text x="182.5" y="28.5" font-size="13.3"><tspan font-style="italic">ε̇</tspan>=0.0003<tspan dx="4">1/s</tspan></text><text x="429.5" y="35" font-size="14.3"><tspan font-style="italic">γ</tspan><tspan font-size="9" baseline-shift="-3">130</tspan><tspan dx="1">=</tspan><tspan dx="1.5">0.290−1.115<tspan font-style="italic">ε</tspan>+2.032<tspan font-style="italic">ε</tspan><tspan font-size="8.5" baseline-shift="5">2</tspan></tspan></text><text x="455" y="51" font-size="14.3">−1.598<tspan font-style="italic">ε</tspan><tspan font-size="8.5" baseline-shift="5">3</tspan>+0.470<tspan font-style="italic">ε</tspan><tspan font-size="8.5" baseline-shift="5">4</tspan></text><text x="429.5" y="70" font-size="14.3"><tspan font-style="italic">γ</tspan><tspan font-size="9" baseline-shift="-3">120</tspan><tspan dx="1">=</tspan><tspan dx="1.5">0.326−1.424<tspan font-style="italic">ε</tspan>+2.725<tspan font-style="italic">ε</tspan><tspan font-size="8.5" baseline-shift="5">2</tspan></tspan></text><text x="455" y="85" font-size="14.3">−2.214<tspan font-style="italic">ε</tspan><tspan font-size="8.5" baseline-shift="5">3</tspan>+0.660<tspan font-style="italic">ε</tspan><tspan font-size="8.5" baseline-shift="5">4</tspan></text><text x="429.5" y="109" font-size="14.3"><tspan font-style="italic">γ</tspan><tspan font-size="9" baseline-shift="-3">70</tspan><tspan dx="1">=</tspan><tspan dx="1.5">0.303−1.048<tspan font-style="italic">ε</tspan>+1.715<tspan font-style="italic">ε</tspan><tspan font-size="8.5" baseline-shift="5">2</tspan></tspan></text><text x="455" y="122" font-size="14.3">−1.254<tspan font-style="italic">ε</tspan><tspan font-size="8.5" baseline-shift="5">3</tspan>+0.362<tspan font-style="italic">ε</tspan><tspan font-size="8.5" baseline-shift="5">4</tspan></text><text x="429.5" y="147.5" font-size="14.3"><tspan font-style="italic">γ</tspan><tspan font-size="9" baseline-shift="-3">25</tspan><tspan dx="1">=</tspan><tspan dx="1.5">0.308−1.053<tspan font-style="italic">ε</tspan>+1.757<tspan font-style="italic">ε</tspan><tspan font-size="8.5" baseline-shift="5">2</tspan></tspan></text><text x="455" y="161" font-size="14.3">−1.315<tspan font-style="italic">ε</tspan><tspan font-size="8.5" baseline-shift="5">3</tspan>+0.391<tspan font-style="italic">ε</tspan><tspan font-size="8.5" baseline-shift="5">4</tspan></text></g>
</g>
</svg>
</body></html>
